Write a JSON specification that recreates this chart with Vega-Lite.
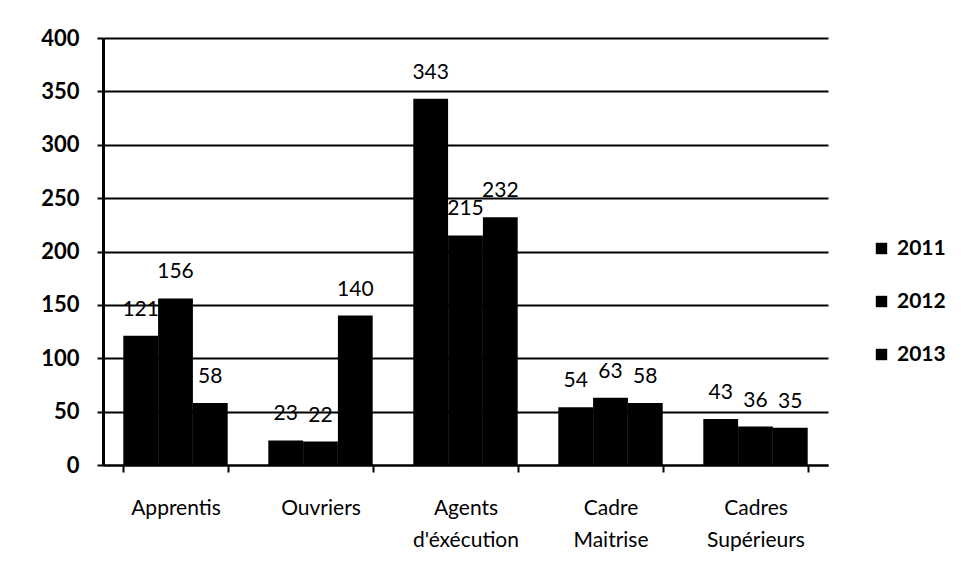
{
  "$schema": "https://vega.github.io/schema/vega-lite/v6.json",
  "autosize": "none",
  "width": 725,
  "height": 427,
  "padding": {"left": 103, "top": 38, "right": 136, "bottom": 118},
  "background": "white",
  "data": {
    "values": [
      {"cat": "Apprentis", "year": "2011", "value": 121},
      {"cat": "Apprentis", "year": "2012", "value": 156},
      {"cat": "Apprentis", "year": "2013", "value": 58},
      {"cat": "Ouvriers", "year": "2011", "value": 23},
      {"cat": "Ouvriers", "year": "2012", "value": 22},
      {"cat": "Ouvriers", "year": "2013", "value": 140},
      {"cat": "Agents|d'éxécution", "year": "2011", "value": 343},
      {"cat": "Agents|d'éxécution", "year": "2012", "value": 215},
      {"cat": "Agents|d'éxécution", "year": "2013", "value": 232},
      {"cat": "Cadre|Maitrise", "year": "2011", "value": 54},
      {"cat": "Cadre|Maitrise", "year": "2012", "value": 63},
      {"cat": "Cadre|Maitrise", "year": "2013", "value": 58},
      {"cat": "Cadres|Supérieurs", "year": "2011", "value": 43},
      {"cat": "Cadres|Supérieurs", "year": "2012", "value": 36},
      {"cat": "Cadres|Supérieurs", "year": "2013", "value": 35}
    ]
  },
  "encoding": {
    "x": {
      "field": "cat",
      "type": "nominal",
      "sort": null,
      "title": null,
      "scale": {"paddingInner": 0.28, "paddingOuter": 0.14},
      "axis": {
        "labelAngle": 0,
        "labelExpr": "split(datum.label, '|')",
        "labelFont": "Lato",
        "labelFontSize": 21,
        "labelFontWeight": "normal",
        "labelColor": "black",
        "labelPadding": 25,
        "labelLineHeight": 32,
        "tickBand": "extent",
        "tickColor": "black",
        "tickSize": 7,
        "tickWidth": 2,
        "domainColor": "black",
        "domainWidth": 2
      }
    },
    "xOffset": {"field": "year", "type": "nominal", "scale": {"paddingInner": 0, "paddingOuter": 0}},
    "y": {
      "field": "value",
      "type": "quantitative",
      "title": null,
      "scale": {"domain": [0, 400], "nice": false},
      "axis": {
        "values": [0, 50, 100, 150, 200, 250, 300, 350, 400],
        "labelFont": "Lato",
        "labelFontSize": 22,
        "labelFontWeight": "bold",
        "labelColor": "black",
        "labelPadding": 18,
        "tickColor": "black",
        "tickSize": 6,
        "tickWidth": 2,
        "domainColor": "black",
        "domainWidth": 3,
        "grid": true,
        "gridColor": "black",
        "gridWidth": 2
      }
    }
  },
  "layer": [
    {
      "mark": {"type": "bar", "color": "black"},
      "encoding": {
        "color": {
          "field": "year",
          "type": "nominal",
          "scale": {"range": ["black", "black", "black"]},
          "legend": {
            "title": null,
            "orient": "none",
            "legendX": 768,
            "legendY": 200,
            "symbolType": "square",
            "symbolSize": 130,
            "symbolStrokeWidth": 0,
            "labelFont": "Lato",
            "labelFontSize": 21,
            "labelFontWeight": "bold",
            "labelColor": "black",
            "rowPadding": 31,
            "labelOffset": 5
          }
        }
      }
    },
    {
      "mark": {"type": "text", "font": "Lato", "fontSize": 21, "color": "black", "dy": -26},
      "encoding": {"text": {"field": "value", "type": "quantitative"}}
    }
  ],
  "config": {"view": {"stroke": null}}
}
